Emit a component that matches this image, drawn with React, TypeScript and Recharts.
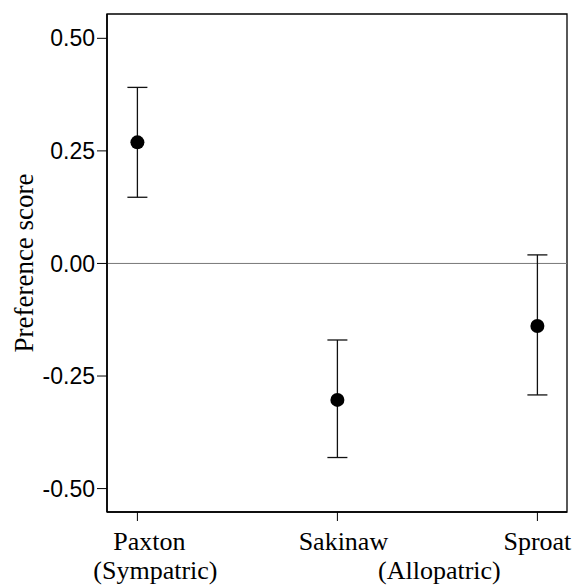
import React, { useLayoutEffect } from 'react';
import {
  ComposedChart, Scatter, XAxis, YAxis, ErrorBar, ReferenceLine, ReferenceArea, ReferenceDot, Label,
} from 'recharts';

// lakes, in the order they sit along the x axis
const lakes = ['Paxton', 'Sakinaw', 'Sproat'];
const lakePos = [1, 2, 3];
// mean preference score and the ends of the error bars
const means = [0.269, -0.303, -0.139];
const upper = [0.391, -0.170, 0.019];
const lower = [0.147, -0.431, -0.292];

// second row of labels (populations grouped by type)
const groups = ['(Sympatric)', '(Allopatric)'];
const groupPos = [1, 2.5];

const yTicks = [-0.5, -0.25, 0, 0.25, 0.5];

const X_DOM = [0.848, 3.148];
const Y_DOM = [-0.552, 0.554];

const serif = '"Liberation Serif", "Times New Roman", serif';
const sans = '"Liberation Sans", Arial, sans-serif';

const data = lakePos.map((x, i) => ({
  x,
  y: means[i],
  err: [means[i] - lower[i], upper[i] - means[i]],
}));

// small nudges so the labels sit where the original print put them
const lakeShift = [12, 6, 0];
const groupShift = [18, 2];

function LakeTick(props: any) {
  const { x, y, payload } = props;
  const i = lakePos.indexOf(payload.value);
  return (
    <text x={x + lakeShift[i]} y={y + 27} textAnchor="middle" fontFamily={serif} fontSize={26} fill="#000">
      {lakes[i]}
    </text>
  );
}

const groupLabel = (i: number) => (p: any) => {
  const vb = p.viewBox;
  return (
    <text x={vb.x + groupShift[i]} y={vb.y + 67} textAnchor="middle" fontFamily={serif} fontSize={26} fill="#000">
      {groups[i]}
    </text>
  );
};

function YTitle(props: any) {
  const vb = props.viewBox;
  const cx = vb.x + 33;
  const cy = vb.y + vb.height / 2;
  return (
    <text x={cx} y={cy} transform={`rotate(-90, ${cx}, ${cy})`} textAnchor="middle" fontFamily={serif} fontSize={27} fill="#000">
      Preference score
    </text>
  );
}

const Dot = (props: any) => <circle cx={props.cx} cy={props.cy} r={7} fill="#000" />;

export default function App() {
  // the figure runs right to the page edges, so drop the default body margin
  useLayoutEffect(() => {
    document.body.style.margin = '0';
  }, []);

  return (
    <ComposedChart width={573} height={585} data={data} margin={{ top: 14, right: 6, bottom: 0, left: 0 }}>
      <XAxis
        dataKey="x" type="number" domain={X_DOM} ticks={lakePos}
        allowDataOverflow height={73} tickSize={9} tick={<LakeTick />}
        axisLine={{ stroke: '#000', strokeWidth: 1.6 }} tickLine={{ stroke: '#000' }}
      />
      <YAxis
        type="number" domain={Y_DOM} ticks={yTicks} allowDataOverflow width={107}
        tickSize={10} tickMargin={2} tickFormatter={(v: number) => v.toFixed(2)}
        tick={{ fontFamily: sans, fontSize: 23, fill: '#000' }}
        axisLine={{ stroke: '#000', strokeWidth: 1.6 }} tickLine={{ stroke: '#000' }}
      >
        <Label content={<YTitle />} />
      </YAxis>
      <ReferenceArea
        x1={X_DOM[0]} x2={X_DOM[1]} y1={Y_DOM[0]} y2={Y_DOM[1]}
        fill="none" stroke="#000" strokeWidth={1.3} ifOverflow="visible"
      />
      <ReferenceLine y={0} stroke="#777" strokeWidth={1} />
      {groupPos.map((g, i) => (
        <ReferenceDot
          key={groups[i]} x={g} y={Y_DOM[0]} r={0} fill="none" stroke="none"
          ifOverflow="visible" label={groupLabel(i)}
        />
      ))}
      <Scatter dataKey="y" shape={<Dot />} isAnimationActive={false}>
        <ErrorBar dataKey="err" direction="y" width={10} stroke="#111" strokeWidth={1.3} />
      </Scatter>
    </ComposedChart>
  );
}
